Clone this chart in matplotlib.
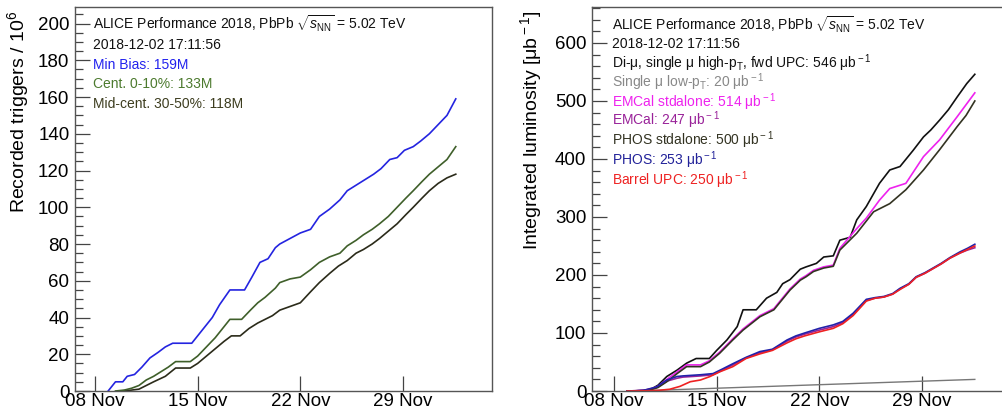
import datetime
import numpy as np
import matplotlib
matplotlib.use("Agg")
import matplotlib.pyplot as plt
import matplotlib.dates as mdates
from matplotlib.ticker import MultipleLocator

plt.rcParams['font.family'] = ['Liberation Sans', 'DejaVu Sans']
plt.rcParams['mathtext.fontset'] = 'custom'
plt.rcParams['mathtext.rm'] = 'Liberation Sans'
plt.rcParams['mathtext.it'] = 'Liberation Sans:italic'

# ---------------------------------------------------------------------------
# data: day of November 2018 (values > 30 are in December) and cumulative values
# left panel: recorded triggers / 1e6
mb_days = [8.9, 9.4, 9.9, 10.2, 10.7, 11.2, 11.75, 12.3, 12.8, 13.3, 14.6, 15.0, 15.5,
           16.0, 16.5, 17.2, 18.2, 18.7, 19.25, 19.8, 20.3, 20.6, 21.3, 22.0, 22.7,
           23.3, 24.0, 24.7, 25.2, 26.0, 27.0, 27.5, 28.1, 28.6, 29.1, 29.7, 30.2,
           30.8, 31.4, 32.0, 32.6]
mb_vals = [0, 5, 5, 8, 9, 13, 18, 21, 24, 26, 26, 30, 35,
           40, 47, 55, 55, 62, 70, 72, 78, 80, 83, 86, 88,
           95, 99, 104, 109, 113, 118, 121, 126, 127, 131, 133, 136,
           140, 145, 150, 159]

cent_days = [9.4, 10.0, 10.5, 11.0, 11.5, 12.0, 12.4, 13.0, 13.5, 14.5, 15.0, 15.6,
             16.2, 16.7, 17.2, 18.0, 18.6, 19.1, 19.6, 20.3, 20.6, 21.3, 22.0, 22.7,
             23.3, 24.0, 24.7, 25.2, 25.8, 26.3, 26.9, 27.4, 28.0, 28.6, 29.2, 29.7,
             30.3, 30.8, 31.4, 32.0, 32.6]
cent_vals = [0, 0.5, 1.5, 3, 6, 8, 10, 13, 16, 16, 19, 24,
             29, 34, 39, 39, 44, 48, 51, 56, 59, 61, 62, 66,
             70, 73, 75, 79, 82, 85, 88, 91, 95, 100, 105, 109,
             114, 118, 122, 126, 133]

mid_days = [9.7, 10.3, 11.0, 11.5, 12.0, 12.8, 13.5, 14.5, 15.0, 15.6, 16.2, 16.8,
            17.3, 17.9, 18.5, 19.1, 19.6, 20.1, 20.6, 21.3, 22.0, 22.7, 23.3, 24.0,
            24.6, 25.2, 25.8, 26.3, 26.9, 27.4, 28.0, 28.6, 29.2, 29.7, 30.3, 30.8,
            31.4, 32.0, 32.6]
mid_vals = [0, 0.3, 1, 3, 5, 8, 12.5, 12.5, 15, 19, 23, 27,
            30, 30, 34, 37, 39, 41, 44, 46, 48, 54, 59, 64,
            68, 71, 75, 77, 80, 83, 87, 91, 96, 100, 105, 109,
            113, 116, 118]

# right panel: integrated luminosity in ub^-1
dimu_days = [8.9, 9.5, 10.0, 10.45, 11.0, 11.6, 12.3, 12.95, 13.6, 14.5, 15.0, 15.7,
             16.4, 16.8, 17.7, 18.4, 19.1, 19.5, 20.0, 20.7, 21.1, 21.8, 22.3, 22.95,
             23.4, 24.1, 24.55, 25.2, 26.1, 26.8, 27.5, 28.4, 29.1, 29.6, 30.2, 30.8,
             31.4, 32.05, 32.6]
dimu_vals = [0, 0.5, 1, 2, 10, 25, 36, 48, 56, 56, 70, 88,
             111, 140, 140, 160, 170, 185, 192, 210, 214, 220, 231, 233,
             260, 265, 295, 318, 358, 381, 387, 415, 438, 450, 467, 485,
             507, 530, 546]

smu_days = [9.5, 21.0, 32.6]
smu_vals = [0, 10, 20]

emcs_days = [8.9, 9.5, 10.0, 10.5, 11.0, 11.6, 12.3, 12.95, 13.9, 14.5, 15.2, 16.1,
             16.8, 17.95, 18.9, 20.0, 20.7, 21.1, 21.6, 22.3, 22.95, 23.4, 24.55, 25.2,
             26.1, 26.8, 27.9, 29.1, 30.2, 31.4, 32.6]
emcs_vals = [0, 0.5, 1, 3, 8, 20, 33, 45, 45, 52, 67, 90,
             107, 130, 142, 176, 193, 199, 208, 214, 217, 246, 280, 298,
             329, 349, 358, 404, 433, 473, 514]

emc_days = [8.9, 9.5, 10.0, 10.9, 11.6, 12.3, 12.7, 13.9, 14.75, 15.4, 16.1, 17.0,
            17.95, 18.8, 19.8, 20.4, 21.0, 22.0, 22.95, 23.6, 24.3, 25.2, 25.8, 26.4,
            27.0, 27.5, 28.1, 28.6, 29.2, 29.75, 30.3, 30.9, 31.6, 32.1, 32.6]
emc_vals = [0, 0.3, 1, 6, 17, 22, 24, 26, 28, 36, 45, 57,
            66, 71, 86, 93, 98, 105, 111, 118, 132, 156, 160, 162,
            167, 176, 184, 196, 203, 211, 219, 229, 238, 243, 247]

phss_days = [8.9, 9.5, 10.0, 10.5, 11.0, 11.6, 12.3, 12.95, 13.9, 14.5, 15.2, 16.1,
             16.8, 17.95, 18.9, 20.0, 20.7, 21.1, 21.6, 22.3, 22.95, 23.4, 24.55, 25.7,
             26.8, 27.9, 29.1, 30.2, 31.4, 32.0, 32.6]
phss_vals = [0, 0.3, 0.5, 2, 6, 16, 30, 42, 42, 50, 65, 88,
             105, 128, 140, 174, 191, 197, 206, 212, 215, 243, 272, 309,
             323, 347, 381, 416, 456, 475, 500]

phos_days = [8.9, 9.5, 10.0, 10.9, 11.6, 12.3, 12.7, 13.9, 14.75, 15.4, 16.1, 17.0,
             17.95, 18.8, 19.8, 20.4, 21.0, 22.0, 22.95, 23.6, 24.3, 25.2, 25.8, 26.4,
             27.0, 27.5, 28.1, 28.6, 29.2, 29.75, 30.3, 30.9, 31.6, 32.1, 32.6]
phos_vals = [0, 0.3, 1, 7, 19, 25, 26, 28, 30, 38, 47, 58,
             68, 72, 88, 95, 100, 108, 114, 120, 134, 158, 161, 163,
             168, 177, 185, 197, 204, 212, 220, 230, 240, 246, 253]

upc_days = [8.9, 10.0, 11.0, 11.8, 12.5, 13.2, 13.9, 14.55, 15.2, 16.1, 17.0, 17.95,
            18.8, 19.8, 20.4, 21.0, 22.0, 22.95, 23.6, 24.3, 25.2, 25.8, 26.4, 27.0,
            27.5, 28.1, 28.6, 29.2, 29.75, 30.3, 30.9, 31.6, 32.1, 32.6]
upc_vals = [0, 0.3, 1, 3, 8, 16, 19, 25, 33, 42, 56, 64,
            70, 83, 90, 95, 102, 108, 116, 130, 155, 160, 162, 167,
            175, 184, 196, 203, 211, 219, 229, 238, 244, 250]

# ---------------------------------------------------------------------------
base = mdates.date2num(datetime.datetime(2018, 11, 1))


def to_x(days):
    return base + np.array(days) - 1.0


W, H = 1002, 418
fig = plt.figure(figsize=(W / 100, H / 100), dpi=100)


def make_axes(x0, x1, y0, y1):
    return fig.add_axes([x0 / W, 1 - y1 / H, (x1 - x0) / W, (y1 - y0) / H])


def style_axes(ax, ymax, ymajor, yminor, day0):
    ax.set_xlim(to_x([day0])[0], to_x([day0 + 28.43])[0])
    ax.set_ylim(0, ymax)
    ax.xaxis.set_major_locator(mdates.DayLocator(bymonthday=[8, 15, 22, 29]))
    ax.xaxis.set_major_formatter(mdates.DateFormatter('%d %b'))
    ax.yaxis.set_major_locator(MultipleLocator(ymajor))
    ax.yaxis.set_minor_locator(MultipleLocator(yminor))
    ax.tick_params(axis='both', which='major', direction='in', length=11,
                   width=0.9, color='#444444', labelsize=13.5)
    ax.tick_params(axis='y', which='major', pad=4)
    ax.tick_params(axis='x', which='major', pad=1.5)
    ax.tick_params(axis='y', which='minor', direction='in', length=6,
                   width=0.9, color='#444444')
    for s in ax.spines.values():
        s.set_color('#555555')
        s.set_linewidth(1.0)


def add_lines(ax, lines, x_px, ypx_list):
    for (txt, col), ypx in zip(lines, ypx_list):
        ax.text(x_px / W, 1 - (ypx + 5) / H, txt, color=col, fontsize=10,
                va='baseline', ha='left', transform=fig.transFigure)


# left panel
ax1 = make_axes(75, 492, 7, 391)
style_axes(ax1, 209, 20, 5, 6.64)
ax1.plot(to_x(mid_days), mid_vals, color='#2b2b1a', lw=1.2)
ax1.plot(to_x(cent_days), cent_vals, color='#3f5f2a', lw=1.2)
ax1.plot(to_x(mb_days), mb_vals, color='#2424e0', lw=1.2)
ax1.set_ylabel('Recorded triggers / 10$^{6}$', fontsize=14, loc='top')
ax1.yaxis.set_label_coords(-0.105, 0.99)

left_txt = [
    ('ALICE Performance 2018, PbPb $\\sqrt{s_{\\rm NN}}$ = 5.02 TeV', '#111111'),
    ('2018-12-02 17:11:56', '#111111'),
    ('Min Bias: 159M', '#2222ee'),
    ('Cent. 0-10%: 133M', '#4c7a2e'),
    ('Mid-cent. 30-50%: 118M', '#3d3d1f'),
]
add_lines(ax1, left_txt, 93, [24, 44, 64, 83, 103])

# right panel
ax2 = make_axes(592, 1009, 7, 391)
style_axes(ax2, 662, 100, 20, 6.5)
ax2.plot(to_x(dimu_days), dimu_vals, color='#111111', lw=1.2)
ax2.plot(to_x(smu_days), smu_vals, color='#777777', lw=1.0)
ax2.plot(to_x(emcs_days), emcs_vals, color='#ee22ee', lw=1.2)
ax2.plot(to_x(emc_days), emc_vals, color='#992299', lw=1.2)
ax2.plot(to_x(phss_days), phss_vals, color='#333322', lw=1.2)
ax2.plot(to_x(phos_days), phos_vals, color='#2222aa', lw=1.2)
ax2.plot(to_x(upc_days), upc_vals, color='#ee2222', lw=1.2)
ax2.set_ylabel('Integrated luminosity [μb$^{\\rm -1}$]', fontsize=14, loc='top')
ax2.yaxis.set_label_coords(-0.115, 0.99)

right_txt = [
    ('ALICE Performance 2018, PbPb $\\sqrt{s_{\\rm NN}}$ = 5.02 TeV', '#111111'),
    ('2018-12-02 17:11:56', '#111111'),
    ('Di-μ, single μ high-p$_{\\rm T}$, fwd UPC: 546 μb$^{\\rm -1}$', '#111111'),
    ('Single μ low-p$_{\\rm T}$: 20 μb$^{\\rm -1}$', '#888888'),
    ('EMCal stdalone: 514 μb$^{\\rm -1}$', '#ee22ee'),
    ('EMCal: 247 μb$^{\\rm -1}$', '#992299'),
    ('PHOS stdalone: 500 μb$^{\\rm -1}$', '#333322'),
    ('PHOS: 253 μb$^{\\rm -1}$', '#222299'),
    ('Barrel UPC: 250 μb$^{\\rm -1}$', '#ee2222'),
]
add_lines(ax2, right_txt, 612, [25, 43, 63, 82, 102, 120, 140, 160, 180])

fig.savefig('out.png', dpi=100)
